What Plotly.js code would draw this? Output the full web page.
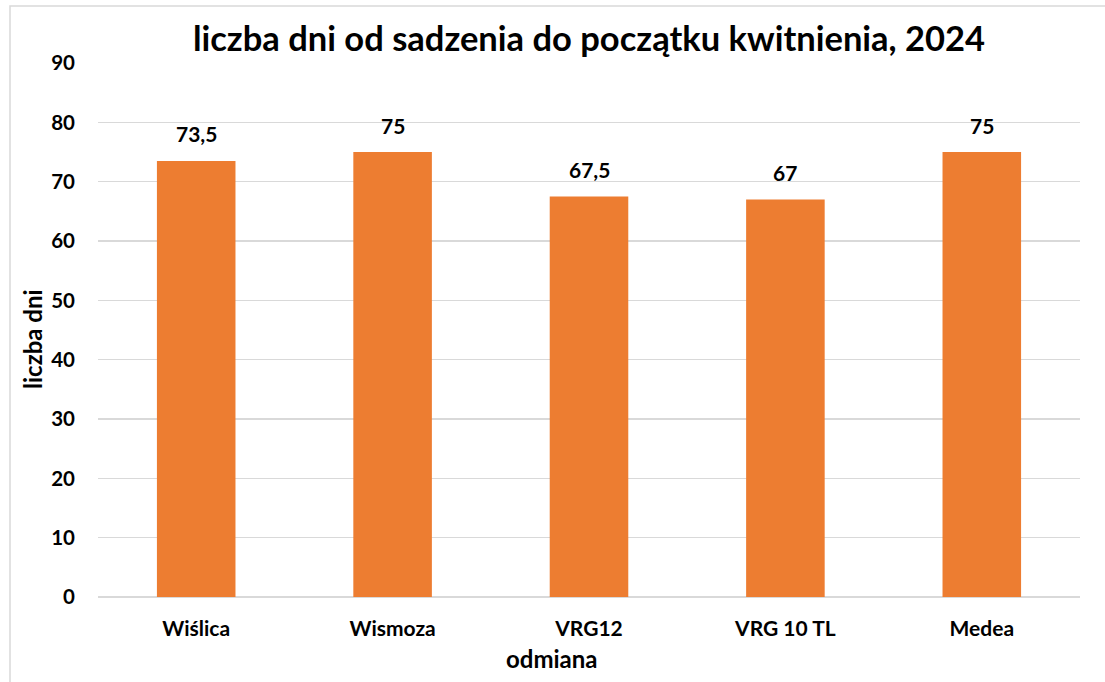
<!DOCTYPE html>
<html>
<head>
<meta charset="utf-8">
<script src="https://cdn.plot.ly/plotly-3.0.1.min.js"></script>
<style>
html,body{margin:0;padding:0;background:#fff;}
#chart{width:1105px;height:682px;}
</style>
</head>
<body>
<div id="chart"></div>
<script>
var categories = ["Wiślica", "Wismoza", "VRG12", "VRG 10 TL", "Medea"];
var values = [73.5, 75, 67.5, 67, 75];
var yTicks = [0, 10, 20, 30, 40, 50, 60, 70, 80, 90];

var FONT = "Lato, 'Open Sans', sans-serif";
var W = 1105, H = 682;
var L = 98, R = 25, T = 63, B = 85;
var pw = W - L - R, ph = H - T - B;

function fmt(v){ return String(v).replace('.', ','); }

var trace = {
  type: 'bar',
  x: categories,
  y: values,
  marker: {color: '#ED7D31'},
  hoverinfo: 'x+y'
};

var annotations = categories.map(function(c, i){
  return {
    x: c, y: values[i], xref: 'x', yref: 'y',
    text: fmt(values[i]), showarrow: false,
    yanchor: 'middle', yshift: 27,
    font: {family: FONT, size: 21, color: '#000', weight: 'bold'}
  };
});

annotations.push({
  text: '<b>odmiana</b>', showarrow: false,
  xref: 'paper', yref: 'paper',
  x: (552 - L) / pw, y: -(658 - (H - B)) / ph,
  xanchor: 'center', yanchor: 'middle',
  font: {family: FONT, size: 24, color: '#000'}
});
annotations.push({
  text: '<b>liczba dni</b>', showarrow: false, textangle: -90,
  xref: 'paper', yref: 'paper',
  x: (33 - L) / pw, y: ((H - B) - 339) / ph,
  xanchor: 'center', yanchor: 'middle',
  font: {family: FONT, size: 24, color: '#000'}
});

var layout = {
  width: W, height: H,
  margin: {l: L, r: R, t: T, b: B, pad: 0},
  paper_bgcolor: '#fff', plot_bgcolor: '#fff',
  separators: ', ',
  bargap: 0.6,
  showlegend: false,
  title: {
    text: '<b>liczba dni od sadzenia do początku kwitnienia, 2024</b>',
    font: {family: FONT, size: 34.5, color: '#000'},
    x: 0.5, xref: 'paper', xanchor: 'center',
    y: 1 - 39 / H, yref: 'container', yanchor: 'middle'
  },
  xaxis: {
    type: 'category',
    showgrid: false, zeroline: false,
    showline: false, ticks: '',
    tickfont: {family: FONT, size: 21, color: '#000', weight: 'bold'},
    ticklabelstandoff: 17
  },
  yaxis: {
    range: [0, 90],
    tickvals: yTicks,
    ticktext: yTicks.map(String),
    showgrid: true, gridcolor: '#d9d9d9', gridwidth: 1.5,
    zeroline: true, zerolinecolor: '#d9d9d9', zerolinewidth: 1.5,
    showline: false, ticks: '',
    tickfont: {family: FONT, size: 20.5, color: '#000', weight: 'bold'},
    ticklabelstandoff: 22
  },
  annotations: annotations,
  shapes: [{
    type: 'rect', xref: 'paper', yref: 'paper',
    x0: (10 - L) / pw, x1: (W + 20 - L) / pw,
    y0: -(B + 20) / ph, y1: (H - B - 6) / ph,
    line: {color: '#d9d9d9', width: 1.5}, fillcolor: 'rgba(0,0,0,0)', layer: 'below'
  }]
};

Plotly.newPlot('chart', [trace], layout, {displayModeBar: false, staticPlot: true});
</script>
</body>
</html>
